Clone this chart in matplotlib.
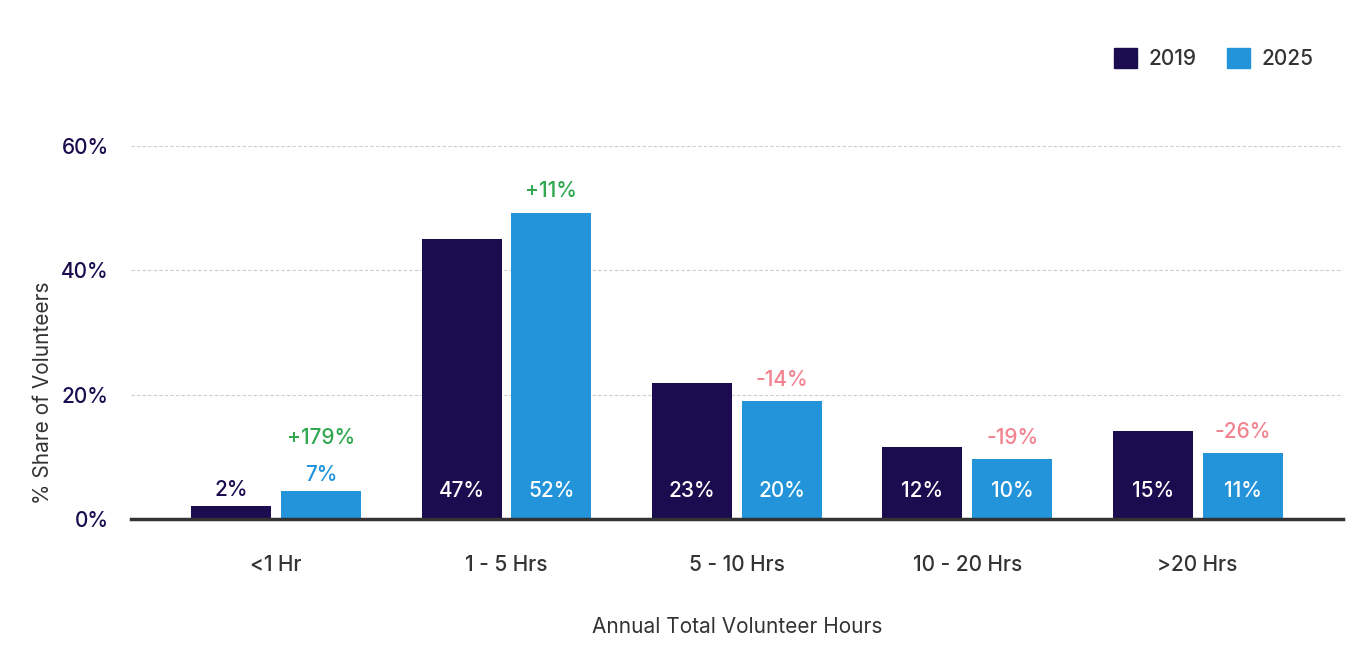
import numpy as np
import matplotlib
matplotlib.use("Agg")
import matplotlib.pyplot as plt
from matplotlib.patches import Patch

plt.rcParams['font.family'] = ['Inter', 'DejaVu Sans']
plt.rcParams['font.weight'] = 'medium'

# data
categories = ['<1 Hr', '1 - 5 Hrs', '5 - 10 Hrs', '10 - 20 Hrs', '>20 Hrs']
share_2019 = [2.1, 45.0, 21.9, 11.6, 14.2]
share_2025 = [4.5, 49.3, 19.0, 9.7, 10.6]
labels_2019 = ['2%', '47%', '23%', '12%', '15%']
labels_2025 = ['7%', '52%', '20%', '10%', '11%']
changes = ['+179%', '+11%', '-14%', '-19%', '-26%']
yticks = [0, 20, 40, 60]
ytick_labels = ['0%', '20%', '40%', '60%']

navy = '#1b0b4f'
blue = '#2394da'
green = '#2fa84f'
pink = '#f2838f'
dark = '#333333'
fs = 15

fig = plt.figure(figsize=(13.55, 6.46), dpi=100)
ax = fig.add_axes([0.0967, 0.1966, 0.8943, 0.5774])

x = np.arange(len(categories))
off = 0.195
w = 0.347
ax.bar(x - off, share_2019, w, color=navy, zorder=3)
ax.bar(x + off, share_2025, w, color=blue, zorder=3)

inside_y = 4.5
for i in range(len(categories)):
    for xi, v, lab, col in [(x[i] - off, share_2019[i], labels_2019[i], navy),
                            (x[i] + off, share_2025[i], labels_2025[i], blue)]:
        if v > 8:
            ax.text(xi, inside_y, lab, ha='center', va='center', color='white',
                    fontsize=fs, zorder=4)
        else:
            ax.text(xi, v + 2.6, lab, ha='center', va='center', color=col,
                    fontsize=fs, zorder=4)
    top = share_2025[i] + 3.4
    if share_2025[i] < 8:
        top = share_2025[i] + 8.6
    col = green if changes[i].startswith('+') else pink
    ax.text(x[i] + off, top, changes[i], ha='center', va='center', color=col,
            fontsize=fs, zorder=4)

ax.set_xlim(-0.63, 4.63)
ax.set_ylim(0, 60)
ax.set_yticks(yticks)
ax.set_yticklabels(ytick_labels, color=navy, fontsize=fs)
ax.set_xticks(x)
ax.set_xticklabels(categories, color=dark, fontsize=fs)
ax.tick_params(axis='both', length=0)
ax.tick_params(axis='x', pad=26)
ax.tick_params(axis='y', pad=16)
ax.grid(axis='y', color='#cccccc', linestyle=(0, (3, 2)), linewidth=0.8, zorder=0)
ax.set_axisbelow(True)
for s in ['top', 'right', 'left']:
    ax.spines[s].set_visible(False)
ax.spines['bottom'].set_color(dark)
ax.spines['bottom'].set_linewidth(2.5)
ax.spines['bottom'].set_zorder(5)

ax.set_ylabel('% Share of Volunteers', color=dark, fontsize=fs)
ax.yaxis.set_label_coords(-0.064, 0.338)
ax.set_xlabel('Annual Total Volunteer Hours', color=dark, fontsize=fs, labelpad=30)

handles = [Patch(color=navy, label='2019'), Patch(color=blue, label='2025')]
fig.legend(handles=handles, loc='upper right', bbox_to_anchor=(0.983, 0.955),
           ncol=2, frameon=False, fontsize=fs, handlelength=1.1, handleheight=1.1,
           columnspacing=1.45, handletextpad=0.55, labelcolor=dark)

fig.savefig('out.png', dpi=100)
